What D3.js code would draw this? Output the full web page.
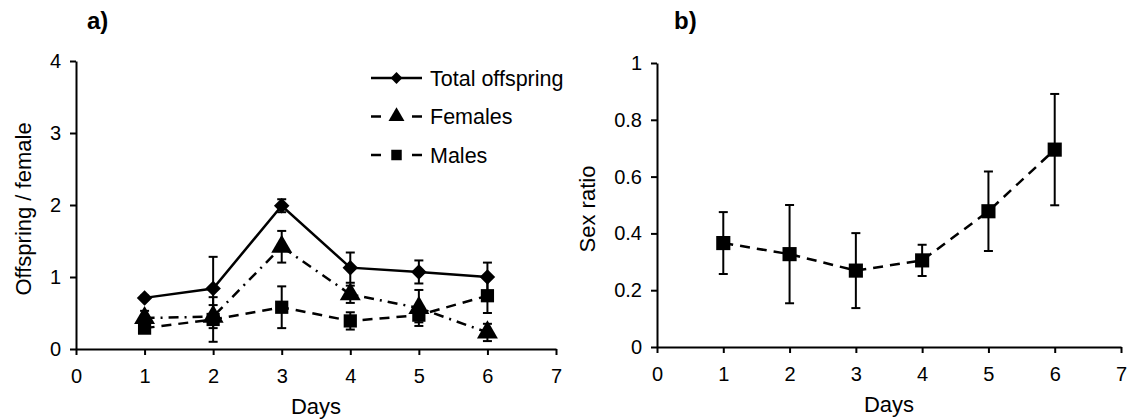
<!DOCTYPE html>
<html>
<head>
<meta charset="utf-8">
<script src="https://cdn.jsdelivr.net/npm/d3@7"></script>
<style>
  body { margin: 0; background: #fff; }
  svg { display: block; font-family: "Liberation Sans", Arial, sans-serif; }
  .axis path, .axis line { stroke: #000; stroke-width: 2px; }
  .axis text { font-size: 20px; fill: #000; }
  .title { font-size: 22px; fill: #000; }
  .legend-text { font-size: 21.5px; fill: #000; }
  .panel { font-size: 24px; font-weight: bold; fill: #000; }
</style>
</head>
<body>
<div id="chart"></div>
<script>
// Panel a: offspring per female by day
const days = [1, 2, 3, 4, 5, 6];
const total = [0.71, 0.84, 1.99, 1.13, 1.07, 1.00];
const totalErr = [0.03, 0.44, 0.09, 0.21, 0.16, 0.20];
const females = [0.43, 0.45, 1.42, 0.76, 0.57, 0.23];
const femalesErr = [0.10, 0.16, 0.22, 0.12, 0.25, 0.12];
const males = [0.29, 0.41, 0.58, 0.39, 0.47, 0.74];
const malesErr = [0.05, 0.31, 0.29, 0.12, 0.10, 0.24];

// Panel b: sex ratio by day
const sexRatio = [0.366, 0.327, 0.269, 0.305, 0.478, 0.695];
const sexRatioErr = [0.109, 0.173, 0.132, 0.055, 0.140, 0.196];

const xTicks = [0, 1, 2, 3, 4, 5, 6, 7];
const yTicksA = [0, 1, 2, 3, 4];
const yTicksB = [0, 0.2, 0.4, 0.6, 0.8, 1];

const seriesA = [
  { name: 'Total offspring', values: total, err: totalErr, symbol: 'diamond', dash: null, size: 120 },
  { name: 'Females', values: females, err: femalesErr, symbol: 'triangle', dash: '10,6,2,6', size: 190 },
  { name: 'Males', values: males, err: malesErr, symbol: 'square', dash: '10,7', size: 175 }
];

const W = 1128, H = 419;
const svg = d3.select('#chart').append('svg').attr('width', W).attr('height', H);

// diamond drawn as a square turned 45 degrees, as in the source chart
function marker(sel, kind, size) {
  const type = kind === 'triangle' ? d3.symbolTriangle : d3.symbolSquare;
  sel.attr('d', d3.symbol().type(type).size(size)).attr('fill', '#000');
  if (kind === 'diamond') sel.attr('transform', sel.attr('transform') + ' rotate(45)');
}

function drawPanel(cfg) {
  const x = d3.scaleLinear().domain([0, 7]).range([cfg.left, cfg.right]);
  const y = d3.scaleLinear().domain(cfg.yDomain).range([cfg.bottom, cfg.top]);

  svg.append('g').attr('class', 'axis')
    .attr('transform', `translate(0,${cfg.bottom})`)
    .call(d3.axisBottom(x).tickValues(xTicks).tickSize(6).tickSizeOuter(0).tickPadding(14).tickFormat(d3.format('d')));

  svg.append('g').attr('class', 'axis')
    .attr('transform', `translate(${cfg.left},0)`)
    .call(d3.axisLeft(y).tickValues(cfg.yTicks).tickSize(6).tickSizeOuter(0).tickPadding(9).tickFormat(cfg.yFormat));

  svg.append('text').attr('class', 'title')
    .attr('x', (cfg.left + cfg.right) / 2).attr('y', cfg.bottom + 65)
    .attr('text-anchor', 'middle').text('Days');

  svg.append('text').attr('class', 'title')
    .attr('transform', `translate(${cfg.yLabelX},${(cfg.top + cfg.bottom) / 2 + 4}) rotate(-90)`)
    .attr('text-anchor', 'middle').attr('dy', '0.35em').text(cfg.yLabel);

  svg.append('text').attr('class', 'panel')
    .attr('x', cfg.panelX).attr('y', 29).text(cfg.panelLabel);

  const line = d3.line().x((d, i) => x(days[i])).y(d => y(d));

  cfg.series.forEach(s => {
    const g = svg.append('g');
    // error bars
    s.values.forEach((v, i) => {
      const cx = x(days[i]);
      const y1 = y(v + s.err[i]), y2 = y(v - s.err[i]);
      g.append('line').attr('x1', cx).attr('x2', cx).attr('y1', y1).attr('y2', y2)
        .attr('stroke', '#000').attr('stroke-width', 2);
      [y1, y2].forEach(yy => g.append('line')
        .attr('x1', cx - 4.5).attr('x2', cx + 4.5).attr('y1', yy).attr('y2', yy)
        .attr('stroke', '#000').attr('stroke-width', 2));
    });
    g.append('path').attr('d', line(s.values))
      .attr('fill', 'none').attr('stroke', '#000').attr('stroke-width', 2.5)
      .attr('stroke-dasharray', s.dash);
    g.selectAll('.pt').data(s.values).enter().append('path')
      .attr('transform', (d, i) => `translate(${x(days[i])},${y(d)})`)
      .each(function () { marker(d3.select(this), s.symbol, s.size); });
  });
}

drawPanel({
  left: 76, right: 556, top: 61, bottom: 349,
  yDomain: [0, 4], yTicks: yTicksA, yFormat: d3.format('d'),
  yLabel: 'Offspring / female', yLabelX: 23,
  panelLabel: 'a)', panelX: 87,
  series: seriesA
});

drawPanel({
  left: 657, right: 1121, top: 63, bottom: 347,
  yDomain: [0, 1], yTicks: yTicksB, yFormat: d => d === 0 || d === 1 ? d3.format('d')(d) : d3.format('.1f')(d),
  yLabel: 'Sex ratio', yLabelX: 587,
  panelLabel: 'b)', panelX: 674,
  series: [{ name: 'Sex ratio', values: sexRatio, err: sexRatioErr, symbol: 'square', dash: '10,7', size: 200 }]
});

// legend for panel a
const legend = svg.append('g');
seriesA.forEach((s, i) => {
  const ly = 78 + i * 38.5;
  legend.append('line').attr('x1', 371).attr('x2', 422).attr('y1', ly).attr('y2', ly)
    .attr('stroke', '#000').attr('stroke-width', 2.5)
    .attr('stroke-dasharray', s.dash ? '10,31,10' : null);
  legend.append('path').attr('transform', `translate(396.5,${ly})`)
    .each(function () { marker(d3.select(this), s.symbol, i === 0 ? 70 : 110); });
  legend.append('text').attr('class', 'legend-text').attr('x', 430).attr('y', ly).attr('dy', '0.35em').text(s.name);
});
</script>
</body>
</html>
